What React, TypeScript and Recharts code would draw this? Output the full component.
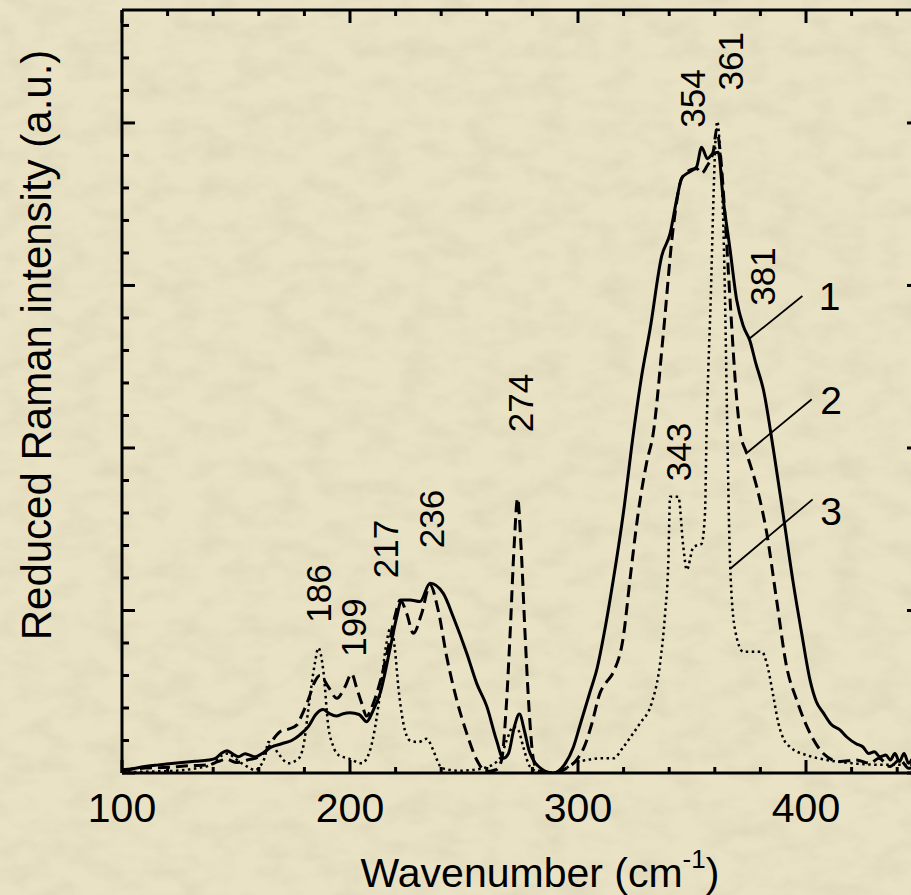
import React from 'react';
import { LineChart, Line, XAxis, YAxis, ReferenceDot, ReferenceLine } from 'recharts';

// x axis: wavenumber, cm-1
const xTicks = [100, 120, 140, 160, 180, 200, 220, 240, 260, 280, 300, 320, 340, 360, 380, 400, 420, 440];
const xMajor = [100, 200, 300, 400];
// y axis: no labels, minor every 0.2
const yTicks = [0, 0.2, 0.4, 0.6, 0.8, 1, 1.2, 1.4, 1.6, 1.8, 2, 2.2, 2.4, 2.6, 2.8, 3, 3.2, 3.4, 3.6, 3.8, 4, 4.2, 4.4, 4.6];

// curve 1 (solid)
const curve1: [number, number][] = [
  [100, 0.01], [108, 0.035], [116, 0.05], [124, 0.062], [132, 0.072], [138, 0.08], [141, 0.09], [143.5, 0.12],
  [146, 0.137], [148.5, 0.118], [151, 0.1], [154, 0.118], [156, 0.11], [158.5, 0.1], [162, 0.125], [165.6, 0.16],
  [170, 0.18], [174.4, 0.2], [178, 0.235], [181.7, 0.285], [185, 0.36], [188.3, 0.39], [191, 0.365], [194, 0.35],
  [197, 0.365], [200, 0.37], [204, 0.36], [207.3, 0.316], [210, 0.38], [213.2, 0.49], [217.5, 0.76], [220.5, 0.96],
  [222.7, 1.065], [226.3, 1.065], [230.7, 1.055], [235.1, 1.167], [240.9, 1.105], [245.3, 0.96], [251.2, 0.737],
  [255.6, 0.55], [260, 0.41], [264.3, 0.2], [267.2, 0.09], [269.5, 0.12], [272, 0.28], [274.3, 0.363], [276.5, 0.26],
  [278.5, 0.14], [280.4, 0.08], [284, 0.025], [289, 0], [294, 0.05], [298, 0.16], [301, 0.3], [305.3, 0.5],
  [308.2, 0.634], [312, 0.9], [315.5, 1.19], [319.9, 1.6], [324.3, 2.09], [328, 2.45], [331.6, 2.73], [336.7, 3.18],
  [340.4, 3.32], [343.3, 3.53], [345.5, 3.66], [349, 3.7], [352, 3.73], [354.2, 3.85], [356.8, 3.78], [359, 3.81],
  [361.5, 3.82], [363.7, 3.53], [366.7, 3.22], [369.6, 2.91], [372.5, 2.75], [375.4, 2.66], [378, 2.52], [381.3, 2.36],
  [385.7, 1.99], [390.1, 1.58], [394.4, 1.17], [398.1, 0.86], [401.8, 0.57], [404.5, 0.44], [407.6, 0.37], [411, 0.3],
  [414.9, 0.265], [418, 0.22], [422, 0.18], [425, 0.16], [427.5, 0.12], [430, 0.13], [432.5, 0.1], [435, 0.11],
  [437, 0.08], [439, 0.12], [441, 0.07], [443, 0.12], [445, 0.06], [447.5, 0.1], [450, 0.07],
];

// curve 2 (dashed)
const curve2: [number, number][] = [
  [100, 0.02], [110, 0.03], [120, 0.035], [130, 0.045], [138, 0.05], [142, 0.07], [146, 0.085], [150, 0.065],
  [155, 0.08], [160, 0.1], [164, 0.15], [167, 0.22], [170, 0.26], [173, 0.27], [176.6, 0.295], [179, 0.36],
  [181.7, 0.45], [184.5, 0.56], [186.8, 0.6], [190.5, 0.53], [194.2, 0.46], [197.8, 0.53], [200.7, 0.61], [203, 0.52],
  [205.1, 0.43], [207.3, 0.35], [210, 0.42], [213.2, 0.56], [217.5, 0.82], [220, 0.98], [222, 1.065], [224.9, 0.98],
  [227.8, 0.86], [231.4, 0.98], [235.1, 1.157], [238.7, 1.0], [242.4, 0.716], [246.8, 0.45], [251.2, 0.244],
  [255.6, 0.08], [260, 0.008], [264, 0.02], [266.5, 0.08], [268.5, 0.4], [270.2, 0.85], [272, 1.4], [273.5, 1.69],
  [275, 1.4], [276.8, 0.85], [278.5, 0.4], [280.5, 0.08], [282.5, 0.015], [289, 0], [295, 0.03], [299.4, 0.08],
  [303, 0.17], [306, 0.3], [309.6, 0.49], [312.5, 0.56], [315.5, 0.62], [319.9, 0.84], [322.8, 1.19], [326.4, 1.6],
  [330.1, 1.91], [333, 2.09], [337.4, 2.7], [341.8, 3.36], [345.5, 3.66], [349.1, 3.71], [352, 3.72], [354.2, 3.69],
  [356.4, 3.73], [359.4, 3.83], [360.8, 3.96], [362.3, 3.83], [364.5, 3.42], [366.7, 2.91], [369.6, 2.3], [371.1, 2.1],
  [373.9, 1.97], [378.4, 1.76], [382.8, 1.475], [387.1, 1.065], [391.5, 0.654], [395.9, 0.45], [401.8, 0.244],
  [407.6, 0.12], [414.9, 0.07], [422, 0.08], [428, 0.06], [432, 0.09], [436.8, 0.04], [441.2, 0.08], [445, 0.03], [450, 0.05],
];

// curve 3 (dotted)
const curve3: [number, number][] = [
  [100, 0.005], [115, 0.01], [125, 0.015], [133, 0.03], [138, 0.045], [141, 0.07], [144, 0.11], [146.6, 0.12],
  [149.5, 0.09], [152.5, 0.06], [155.5, 0.035], [158.3, 0.018], [161, 0.05], [162.7, 0.1], [164.2, 0.19], [166, 0.17],
  [168.6, 0.12], [172.9, 0.06], [175.5, 0.07], [178.1, 0.1], [180, 0.2], [181.7, 0.39], [184.6, 0.675], [186.1, 0.77],
  [188.3, 0.63], [190.5, 0.285], [192.5, 0.17], [195, 0.11], [199.3, 0.09], [205.1, 0.06], [208.8, 0.14], [211, 0.28],
  [213.2, 0.49], [216, 0.8], [218, 0.9], [219.7, 0.76], [221.2, 0.53], [223.4, 0.306], [226.3, 0.2], [230, 0.19],
  [233.6, 0.21], [236.5, 0.14], [238.5, 0.07], [240.2, 0.03], [248.2, 0.014], [258.5, 0.03], [265.8, 0.09], [268.7, 0.2],
  [271.6, 0.285], [273.8, 0.265], [276, 0.16], [278.9, 0.04], [284, 0], [292, 0.008], [298, 0.06], [303.8, 0.08],
  [310, 0.09], [315.5, 0.09], [319.9, 0.16], [324, 0.24], [327.2, 0.306], [332.3, 0.43], [336, 0.675], [338.2, 0.98],
  [339.6, 1.29], [340.4, 1.7], [344, 1.7], [346.2, 1.39], [347.7, 1.25], [350.6, 1.39], [354.2, 1.41], [355.7, 1.6],
  [356.4, 2.11], [357.2, 2.5], [358.2, 2.91], [359.4, 3.53], [360.1, 3.83], [361.1, 4.01], [362.3, 3.83], [363.4, 3.53],
  [364.5, 2.91], [365.5, 2.09], [366.7, 1.29], [368.9, 0.88], [372.5, 0.746], [380.6, 0.746], [382.8, 0.675],
  [385.7, 0.47], [387.9, 0.306], [390.5, 0.2], [393, 0.16], [400.3, 0.11], [409.1, 0.08], [420, 0.06], [435, 0.05], [450, 0.05],
];

// rotated peak labels (text centre in data units)
const peakLabels = [
  { text: '186', w: 186.4, i: 1.105 },
  { text: '199', w: 201.5, i: 0.895 },
  { text: '217', w: 215.4, i: 1.378 },
  { text: '236', w: 235.7, i: 1.563 },
  { text: '274', w: 274.6, i: 2.277 },
  { text: '343', w: 344.1, i: 1.975 },
  { text: '354', w: 350.2, i: 4.15 },
  { text: '361', w: 366.7, i: 4.38 },
  { text: '381', w: 380.9, i: 3.055 },
];

// curve numbers and their leader lines
const curveLabels = [
  { text: '1', w: 410.3, i: 2.935 },
  { text: '2', w: 411, i: 2.29 },
  { text: '3', w: 411, i: 1.61 },
];
const leaders = [
  { from: [375.4, 2.675], to: [398.4, 2.935] },
  { from: [373.5, 1.963], to: [402.5, 2.3] },
  { from: [367, 1.26], to: [402.9, 1.684] },
];

const FONT = '"Liberation Sans", Arial, Helvetica, sans-serif';
const toPts = (c: [number, number][]) => c.map(([w, i]) => ({ w, i }));

const BottomTick = (props: any) => {
  const { x, y, payload } = props;
  const major = xMajor.includes(payload.value);
  return (
    <g>
      <line x1={x} y1={y} x2={x} y2={y - (major ? 13 : 6)} stroke="#000" strokeWidth={3} />
      {major && (
        <text x={x} y={y + 49} textAnchor="middle" fontSize={41} fontFamily={FONT} fill="#000">
          {payload.value}
        </text>
      )}
    </g>
  );
};

const TopTick = (props: any) => {
  const { x, y, payload } = props;
  const major = xMajor.includes(payload.value);
  return <line x1={x} y1={y} x2={x} y2={y + (major ? 13 : 6)} stroke="#000" strokeWidth={3} />;
};

const isMajorY = (v: number) => Math.abs(v - Math.round(v)) < 1e-6;

const LeftTick = (props: any) => {
  const { x, y, payload } = props;
  return <line x1={x} y1={y} x2={x + (isMajorY(payload.value) ? 13 : 7)} y2={y} stroke="#000" strokeWidth={3} />;
};

const RightTick = (props: any) => {
  const { x, y, payload } = props;
  return <line x1={x} y1={y} x2={x - (isMajorY(payload.value) ? 13 : 7)} y2={y} stroke="#000" strokeWidth={3} />;
};

const XTitle = (props: any) => {
  const { viewBox } = props;
  const cx = viewBox.x + viewBox.width / 2 + 19;
  return (
    <text x={cx} y={viewBox.y + 114} textAnchor="middle" fontSize={41} fontFamily={FONT} fill="#000">
      <tspan>Wavenumber (cm</tspan>
      <tspan dy={-19} fontSize={26}>-1</tspan>
      <tspan dy={19}>)</tspan>
    </text>
  );
};

const YTitle = (props: any) => {
  const { viewBox } = props;
  const x = viewBox.x + viewBox.width - 71;
  const y = viewBox.y + 335;
  return (
    <text x={x} y={y} transform={`rotate(-90, ${x}, ${y})`} textAnchor="middle" fontSize={42} fontFamily={FONT} fill="#000">
      Reduced Raman intensity (a.u.)
    </text>
  );
};

const rotLabel = (text: string) => (props: any) => {
  const { x, y } = props.viewBox;
  return (
    <text x={x} y={y} transform={`rotate(-90, ${x}, ${y})`} textAnchor="middle" dominantBaseline="central"
      fontSize={35} fontFamily={FONT} fill="#000">
      {text}
    </text>
  );
};

const flatLabel = (text: string) => (props: any) => {
  const { x, y } = props.viewBox;
  return (
    <text x={x} y={y} textAnchor="middle" dominantBaseline="central" fontSize={39} fontFamily={FONT} fill="#000">
      {text}
    </text>
  );
};

// parchment-like page background
const Paper = () => (
  <svg width={911} height={895} style={{ position: 'absolute', left: 0, top: 0 }}>
    <defs>
      <filter id="paper" x="0" y="0" width="100%" height="100%">
        <feTurbulence type="fractalNoise" baseFrequency="0.03 0.05" numOctaves={4} seed={7} />
        <feColorMatrix type="matrix" values="0 0 0 0 0.55  0 0 0 0 0.5  0 0 0 0 0.33  0 0 0 0.45 -0.17" />
      </filter>
    </defs>
    <rect width={911} height={895} fill="#e9e2c5" />
    <rect width={911} height={895} filter="url(#paper)" />
  </svg>
);

export default function App() {
  return (
    <div style={{ position: 'absolute', left: 0, top: 0, width: 911, height: 895, overflow: 'hidden', background: '#e8e1c3' }}>
      <Paper />
      <div style={{ position: 'absolute', left: 0, top: 0 }}>
        <LineChart width={930} height={895} margin={{ top: 9, right: 9, left: 121, bottom: 0 }}>
          <XAxis xAxisId="b" dataKey="w" type="number" domain={[100, 450]} allowDataOverflow ticks={xTicks} interval={0}
            height={122} tickSize={0} tickMargin={0} tickLine={false} axisLine={{ stroke: '#000', strokeWidth: 3 }}
            tick={<BottomTick />} label={{ content: XTitle }} />
          <XAxis xAxisId="t" orientation="top" dataKey="w" type="number" domain={[100, 450]} allowDataOverflow ticks={xTicks}
            interval={0} height={1} tickSize={0} tickMargin={0} tickLine={false} axisLine={{ stroke: '#000', strokeWidth: 3 }}
            tick={<TopTick />} />
          <YAxis yAxisId="l" type="number" domain={[0, 4.695]} allowDataOverflow ticks={yTicks} interval={0} width={1}
            tickSize={0} tickMargin={0} tickLine={false} axisLine={{ stroke: '#000', strokeWidth: 3 }}
            tick={<LeftTick />} label={{ content: YTitle }} />
          <YAxis yAxisId="r" orientation="right" type="number" domain={[0, 4.695]} allowDataOverflow ticks={yTicks} interval={0}
            width={1} tickSize={0} tickMargin={0} tickLine={false} axisLine={{ stroke: '#000', strokeWidth: 3 }}
            tick={<RightTick />} />

          <Line xAxisId="b" yAxisId="l" data={toPts(curve3)} dataKey="i" type="monotone" stroke="#000" strokeWidth={2.5}
            strokeDasharray="2.5 3.5" dot={false} isAnimationActive={false} />
          <Line xAxisId="b" yAxisId="l" data={toPts(curve2)} dataKey="i" type="monotone" stroke="#000" strokeWidth={3}
            strokeDasharray="12 6" dot={false} isAnimationActive={false} />
          <Line xAxisId="b" yAxisId="l" data={toPts(curve1)} dataKey="i" type="monotone" stroke="#000" strokeWidth={3}
            dot={false} isAnimationActive={false} />

          {leaders.map((l, k) => (
            <ReferenceLine key={`ld-${k}`} xAxisId="b" yAxisId="l" stroke="#000" strokeWidth={1.8}
              segment={[{ x: l.from[0], y: l.from[1] }, { x: l.to[0], y: l.to[1] }]} />
          ))}
          {peakLabels.map((p) => (
            <ReferenceDot key={`pk-${p.text}`} xAxisId="b" yAxisId="l" x={p.w} y={p.i} r={0} fill="none" stroke="none"
              label={rotLabel(p.text)} />
          ))}
          {curveLabels.map((p) => (
            <ReferenceDot key={`cl-${p.text}`} xAxisId="b" yAxisId="l" x={p.w} y={p.i} r={0} fill="none" stroke="none"
              label={flatLabel(p.text)} />
          ))}
        </LineChart>
      </div>
    </div>
  );
}
